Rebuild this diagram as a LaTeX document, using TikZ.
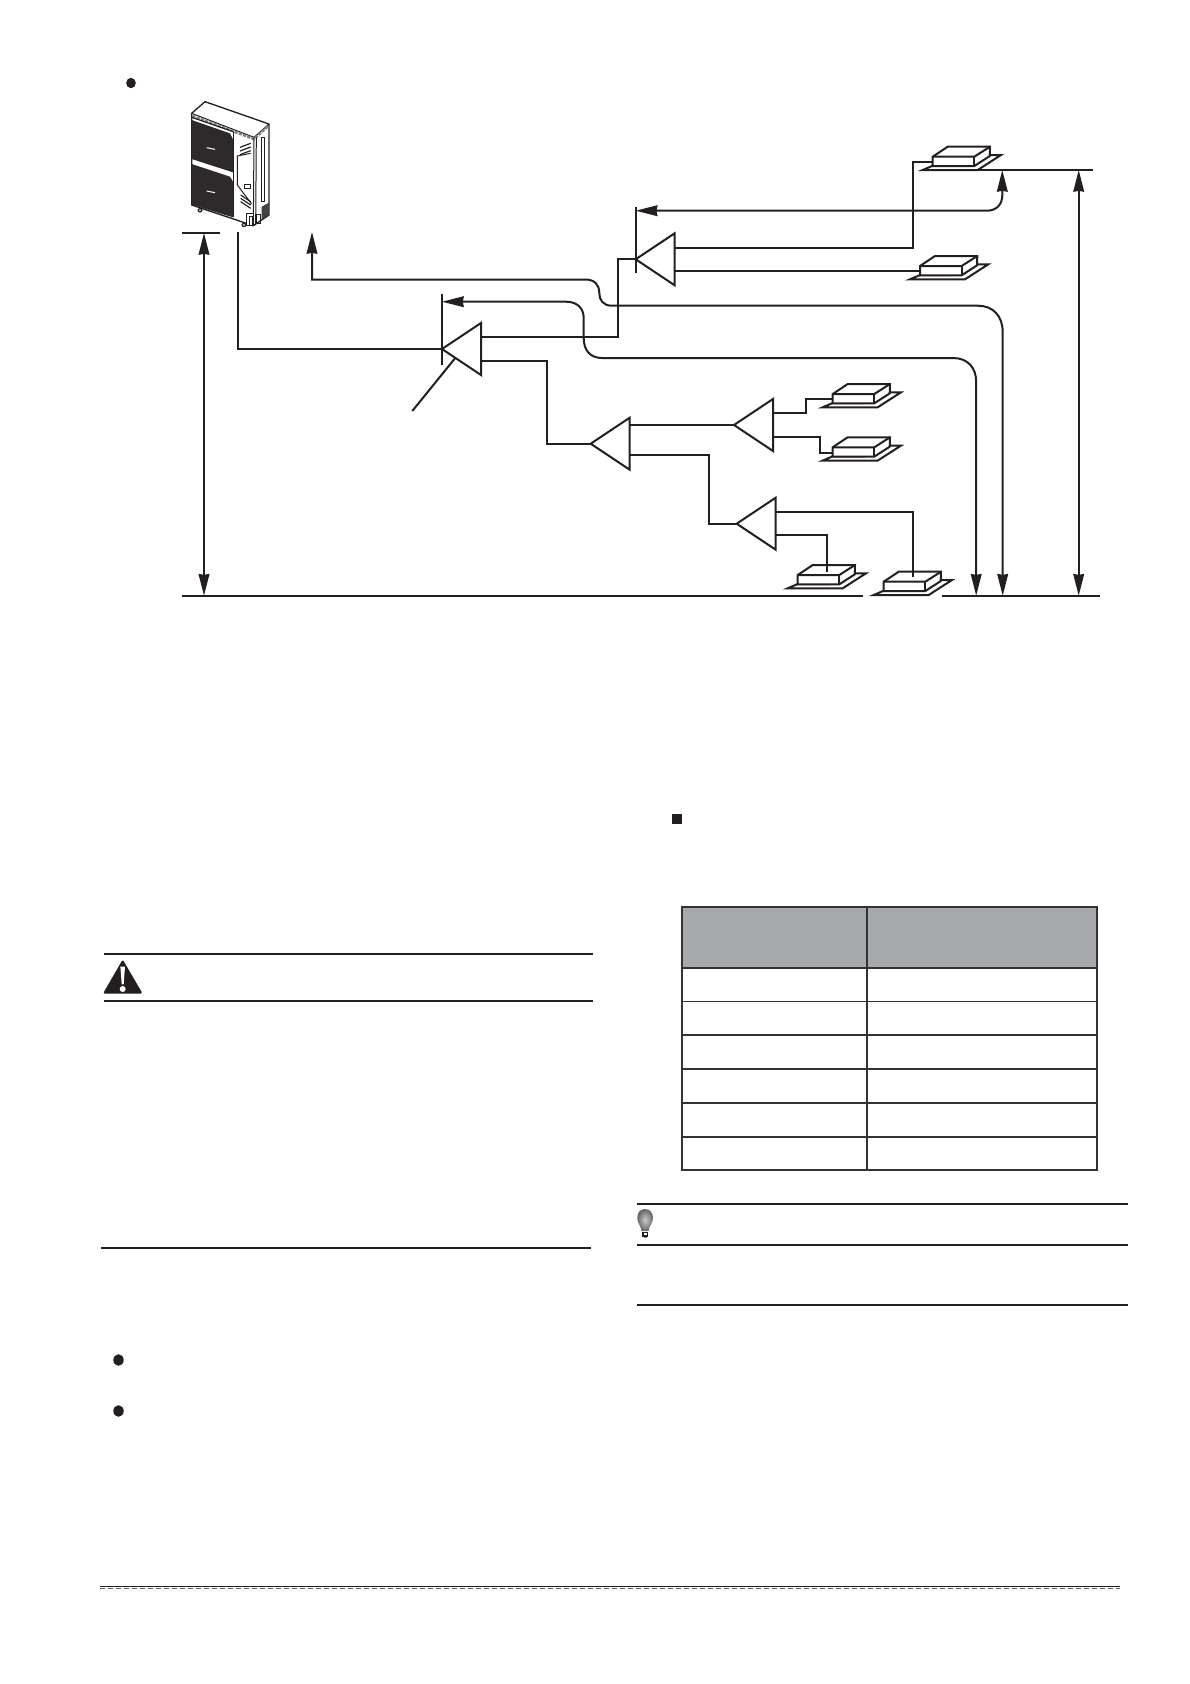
\documentclass[tikz,border=0pt]{standalone}
\usetikzlibrary{arrows.meta,calc}
\definecolor{ink}{HTML}{231F20}
\definecolor{tablehead}{HTML}{A7A9AC}
\definecolor{tableline}{HTML}{333333}
\tikzset{
  pipe/.style={draw=ink,line width=1.2pt,line join=miter},
  rulebar/.style={draw=ink,line width=1.3pt},
  tip/.tip={Stealth[length=13pt,width=6.4pt,inset=0.5pt]},
  branch/.pic={
    \draw[pipe,fill=white] (0,0) -- (39,-26) -- (39,26) -- cycle;
    \coordinate (-a) at (0,0);
    \coordinate (-u) at (39,-11.7);
    \coordinate (-d) at (39,11.7);
  },
  idu/.pic={
    \draw[pipe,fill=white] (-10,13.3) -- (45,13.3) -- (68.3,-1.7) -- (56.7,-1.7) -- (32,9) -- (0,9) -- cycle;
    \draw[pipe,fill=white] (0,0) -- (15,-10) -- (57.3,-10) -- (57,-0.6) -- (41.6,9.3) -- (0,9.3) -- cycle;
    \draw[pipe] (0,0) -- (41.6,0) -- (57.3,-10);
    \draw[pipe] (41.6,0) -- (41.6,9.3);
    \coordinate (-w) at (0,5.2);
    \coordinate (-b) at (-10,13.3);
  }
}
\begin{document}
\begin{tikzpicture}[x=0.6pt,y=-0.6pt]
\useasboundingbox (0,0) rectangle (1190,1684);
\fill[white] (0,0) rectangle (1190,1684);

% bullets
\fill[ink] (131,83) ellipse (4.8 and 5.2);
\fill[ink] (118.5,1360) ellipse (5.2 and 5.8);
\fill[ink] (118.5,1411) ellipse (5.2 and 5.8);
\fill[ink] (671.7,814) rectangle (682,824.3);

% outdoor unit
\begin{scope}[shift={(150,60)},x=0.2pt,y=-0.2pt]
  \draw[ink,line width=.8pt,line join=round,fill=white] (125,160) -- (165,125) -- (357,192) -- (357,465) -- (310,497) -- (125,435) -- cycle;
  \draw[ink,line width=.6pt] (125,160) -- (312,232) -- (357,192);
  \draw[gray,line width=1.5pt,dash pattern=on 2pt off .7pt] (127,168) -- (312,237) -- (355,198);
  \draw[ink,line width=.7pt] (125,172) -- (250,215);
  \fill[ink!95] (125,180) -- (240,220) -- (249,238) -- (249,337) -- (125,297) -- cycle;
  \fill[ink!95] (125,312) -- (240,350) -- (249,365) -- (249,472) -- (125,434) -- cycle;
  \draw[white,line width=.6pt] (170,263) -- (195,268);
  \draw[white,line width=.6pt] (170,393) -- (195,398);
  \draw[ink,line width=.6pt] (312,232) -- (310,497);
  \draw[ink,line width=.6pt] (319,232) -- (317,495);
  \draw[ink,line width=.6pt] (335,232) rectangle (343,425);
  \draw[ink,line width=.6pt] (250,215) -- (250,470);
  \draw[ink,line width=.6pt] (302,280) -- (262,288) -- (262,375) -- (305,432);
  \foreach \yy in {0,11,22} {\draw[ink,line width=.7pt] (270,262+\yy) -- (302,250+\yy);}
  \foreach \yy in {0,10,20} {\draw[ink,line width=.7pt] (272,405+\yy) -- (302,425+\yy);}
  \draw[ink,line width=.6pt] (283,372) rectangle (303,385);
  \draw[ink,line width=.7pt,fill=white] (290,460) rectangle (310,497);
  \draw[ink,line width=.5pt] (298,470) rectangle (308,495);
  \draw[ink,line width=.5pt] (318,462) rectangle (330,490);
  \fill[ink!85] (335,440) -- (357,428) -- (357,465) -- (335,478) -- cycle;
  \draw[ink,line width=.6pt,fill=gray!60] (150,451) ellipse (6 and 5);
  \draw[ink,line width=.6pt,fill=gray!60] (282,495) ellipse (6 and 5);
\end{scope}

% named anchors
\coordinate (odutap) at (238,232);
\coordinate (v1) at (618,300);
\coordinate (v2) at (912.7,200);
\coordinate (v3) at (547,400);
\coordinate (v4) at (708.8,490);
\coordinate (v5) at (806,405);
\coordinate (v6) at (820,445);
\coordinate (drop5) at (827,571.7);
\coordinate (drop6) at (912.7,576.7);
\coordinate (tickTa) at (442,294);
\coordinate (tickTb) at (442,364.7);
\coordinate (tickUa) at (635.7,206.7);
\coordinate (tickUb) at (635.7,273.3);
\coordinate (leaderA) at (412.3,411);
\coordinate (leaderB) at (455,358.3);

% indoor units
\pic (I1) at (932.7,156.7) {idu};
\pic (I2) at (920,266) {idu};
\pic (I3) at (832.7,394) {idu};
\pic (I4) at (832.7,447.3) {idu};
\pic (I5) at (797.7,575) {idu};
\pic (I6) at (883.7,581.7) {idu};

% branch joints
\pic (T0) at (442,349) {branch};
\pic (T1) at (635.7,259.3) {branch};
\pic (T2) at (590.7,443.7) {branch};
\pic (T3) at (734,425) {branch};
\pic (T4) at (736.7,523.7) {branch};

% piping
\draw[pipe] (odutap) |- (T0-a);
\draw[pipe] (T0-u) -| (v1) |- (T1-a);
\draw[pipe] (T1-u) -| (v2) |- (I1-w);
\draw[pipe] (T1-d) -- (T1-d -| I2-w);
\draw[pipe] (T0-d) -| (v3) |- (T2-a);
\draw[pipe] (T3-a) -- (T3-a -| T2-u);
\draw[pipe] (T2-d) -| (v4) |- (T4-a);
\draw[pipe] (T3-u) -| (v5) |- (I3-w);
\draw[pipe] (T3-d) -| (v6) |- (I4-w);
\draw[pipe] (T4-u) -| (drop6);
\draw[pipe] (T4-d) -| (drop5);

% ticks and leader
\draw[pipe] (tickTa) -- (tickTb);
\draw[pipe] (tickUa) -- (tickUb);
\draw[pipe] (leaderA) -- (leaderB);

% level lines
\coordinate (lvlA) at (182,233);
\coordinate (lvlB) at (220,233);
\coordinate (botA) at (181.5,595.7);
\coordinate (botB) at (863.3,595.7);
\coordinate (botC) at (941.7,595.7);
\coordinate (botD) at (1100,595.7);
\coordinate (topA) at (977,170);
\coordinate (topB) at (1092.7,170);
\draw[pipe] (lvlA) -- (lvlB);
\draw[pipe] (botA) -- (botB);
\draw[pipe] (botC) -- (botD);
\draw[pipe] (topA) -- (topB);

% height dimensions
\coordinate (dimL) at (204,233);
\coordinate (dimR) at (1078.7,170);
\draw[pipe,{tip}-{tip}] (dimL) -- (dimL |- botA);
\draw[pipe,{tip}-{tip}] (dimR) -- (dimR |- botC);

% length arrows
\draw[pipe,{tip}-{tip}] (635.7,210.7) -- (986.7,210.7) .. controls (996,210.7) and (1002.3,205) .. (1002.3,195) -- (1002.3,170);
\draw[pipe,{tip}-{tip}] (312,232) -- (312,279.5) -- (585,279.5) .. controls (595,279.5) and (599.3,285) .. (599.3,293) .. controls (599.3,300) and (603,305.7) .. (612,305.7) -- (978,305.7) .. controls (993,305.7) and (1002.7,316) .. (1002.7,332) -- (1002.7,595.7);
\draw[pipe,{tip}-{tip}] (442,301.7) -- (566,301.7) .. controls (577,301.7) and (583.7,308) .. (583.7,318) -- (583.7,338) .. controls (583.7,350) and (590,358) .. (602,358) -- (953,358) .. controls (968,358) and (976.2,368) .. (976.2,382) -- (976.2,595.7);

% caution block
\draw[rulebar] (104,954) -- (593,954);
\draw[rulebar] (104,1001) -- (593,1001);
\fill[ink,rounded corners=1.2pt] (122.7,959.5) -- (142.6,993.6) -- (103,993.6) -- cycle;
\fill[white] (120.4,966.7) -- (125,966.7) -- (123.7,984.3) -- (121.7,984.3) -- cycle;
\fill[white] (122.7,989) circle (3);
\draw[rulebar] (101,1248) -- (591,1248);

% table
\fill[tablehead] (682.3,907.3) rectangle (1096.7,968);
\begin{scope}[tableline,line width=1.2pt]
  \draw (682.3,907.3) rectangle (1096.7,1170.3);
  \draw (867,907.3) -- (867,1170.3);
  \draw (682.3,968) -- (1096.7,968);
  \draw[line width=.9pt] (682.3,1001.3) -- (1096.7,1001.3);
  \draw (682.3,1034.7) -- (1096.7,1034.7);
  \draw (682.3,1068.7) -- (1096.7,1068.7);
  \draw (682.3,1103) -- (1096.7,1103);
  \draw (682.3,1136.7) -- (1096.7,1136.7);
\end{scope}

% note block
\draw[rulebar] (637,1204) -- (1128,1204);
\draw[rulebar] (637,1244.7) -- (1128,1244.7);
\draw[rulebar] (637,1305) -- (1128,1305);
\shade[inner color=gray!40,outer color=gray!80!black] (645,1209) .. controls (651,1209) and (653,1214) .. (653,1218) .. controls (653,1223) and (649,1226) .. (648.5,1231) -- (641.5,1231) .. controls (641,1226) and (637.3,1223) .. (637.3,1218) .. controls (637.3,1214) and (639,1209) .. (645,1209) -- cycle;
\fill[ink] (642,1232) rectangle (648,1236.5);
\fill[white] (643.5,1233) rectangle (646.5,1234.5);
\fill[gray] (643.5,1236.5) rectangle (646.5,1238);

% footer
\draw[ink,line width=.8pt] (100,1586.3) -- (1120,1586.3);
\draw[gray!80!black,line width=.8pt,dash pattern=on 2.8pt off 2pt] (100,1588.6) -- (1120,1588.6);
\end{tikzpicture}
\end{document}
